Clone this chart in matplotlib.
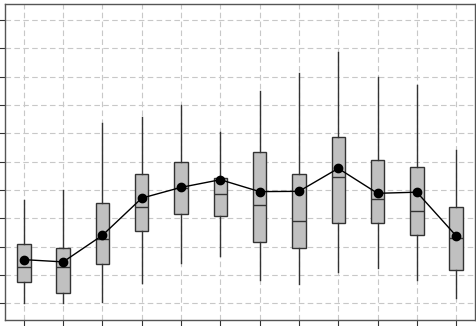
import numpy as np
import matplotlib
matplotlib.use("Agg")
import matplotlib.pyplot as plt

# ---------------- Data ----------------
positions = np.arange(1, 13)
whisker_low = [0.00, 0.00, 0.06, 0.71, 1.43, 1.67, 0.82, 0.68, 1.09, 1.24, 0.82, 0.20]
q1 = [0.74, 0.35, 1.40, 2.54, 3.15, 3.08, 2.17, 1.94, 2.85, 2.85, 2.41, 1.18]
medians = [1.27, 1.27, 2.28, 3.41, 4.05, 3.86, 3.47, 2.92, 4.45, 3.67, 3.27, 2.29]
q3 = [2.10, 1.94, 3.55, 4.56, 4.98, 4.41, 5.35, 4.55, 5.86, 5.05, 4.80, 3.40]
whisker_high = [3.65, 4.00, 6.35, 6.56, 7.00, 6.04, 7.49, 8.12, 8.88, 8.00, 7.69, 5.41]
means = [1.54, 1.46, 2.40, 3.71, 4.09, 4.36, 3.94, 3.95, 4.76, 3.88, 3.92, 2.38]

# ---------------- Figure ----------------
fig = plt.figure(figsize=(4.77, 3.26), dpi=100)
ax = fig.add_axes([5 / 477, 6 / 326, 470 / 477, 316 / 326])

stats = []
for i in range(len(positions)):
    stats.append({
        "whislo": whisker_low[i], "q1": q1[i], "med": medians[i],
        "q3": q3[i], "whishi": whisker_high[i], "fliers": [],
    })

edge = "#333333"
ax.bxp(stats, positions=positions, widths=0.34, showcaps=False,
       patch_artist=True, showfliers=False,
       boxprops=dict(facecolor="#c0c0c0", edgecolor=edge, linewidth=1.0),
       medianprops=dict(color=edge, linewidth=1.0),
       whiskerprops=dict(color=edge, linewidth=1.0),
       zorder=3)

ax.plot(positions, means, color="black", linewidth=1.0, marker="o",
        markersize=6, zorder=4)

ax.set_xlim(0.52, 12.48)
ax.set_ylim(-0.59, 10.56)
ax.set_xticks(positions)
ax.set_yticks(np.arange(0, 11))
ax.set_xticklabels([])
ax.set_yticklabels([])
ax.tick_params(direction="out", length=4, color=edge, width=0.8)

ax.grid(True, linestyle=(0, (5, 3)), color="#c8c8c8", linewidth=0.8, zorder=0)
ax.set_axisbelow(True)
for s in ax.spines.values():
    s.set_color("#555555")
    s.set_linewidth(1.0)

fig.savefig("out.png", dpi=100)
